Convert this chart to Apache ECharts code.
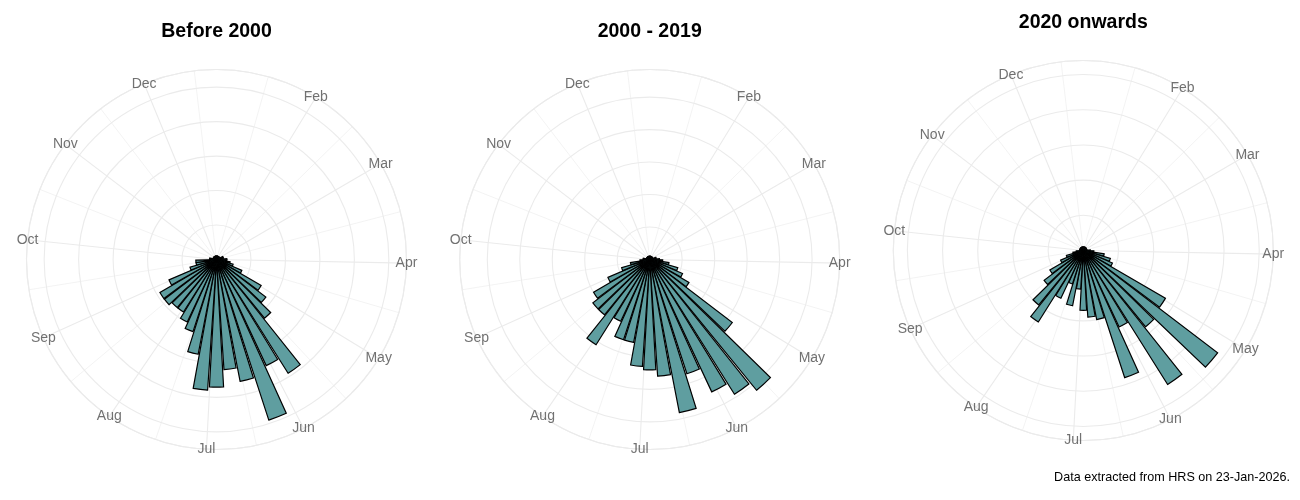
<!DOCTYPE html>
<html>
<head>
<meta charset="utf-8">
<script src="https://cdn.jsdelivr.net/npm/echarts@6.0.0/dist/echarts.min.js"></script>
<style>
  html, body { margin: 0; padding: 0; background: #fff; }
  #main { width: 1300px; height: 500px; }
</style>
</head>
<body>
<div id="main"></div>
<script>
// week number of every bar (1..51)
var weeks = Array.from({ length: 51 }, function (_, i) { return i + 1; });

// counts per week
var before2000 = [1, 1, 1, 1, 1, 1, 1, 1, 1, 2, 2, 2, 3, 3, 4, 5, 8, 15, 18, 22,
  39, 34, 49, 36, 32, 37, 38, 28, 22, 20, 18, 18, 19, 19, 15, 8, 6, 6, 2, 2,
  1, 1, 1, 1, 1, 1, 1, 1, 1, 1, 1];
var from2000 = [1, 1, 1, 1, 1, 1, 1, 1, 1, 1, 2, 2, 3, 4, 6, 9, 11, 14, 32, 52,
  49, 45, 37, 48, 36, 34, 33, 26, 26, 21, 31, 22, 22, 20, 14, 9, 6, 3, 2, 2,
  1, 1, 1, 1, 1, 1, 1, 1, 1, 1, 1];
var from2020 = [1, 1, 1, 1, 1, 1, 1, 1, 1, 1, 1, 1, 2, 3, 6, 8, 9, 27, 48, 28,
  45, 24, 38, 20, 19, 17, 11, 16, 10, 15, 24, 20, 14, 11, 7, 5, 3, 2, 1, 1,
  1, 1, 1, 1, 1, 1, 1, 1, 1, 1, 1];

var panelTitles = ["Before 2000", "2000 - 2019", "2020 onwards"];
var caption = "Data extracted from HRS on 23-Jan-2026.";

// month tick labels (Jan falls outside the axis range)
var monthNames = ["Feb", "Mar", "Apr", "May", "Jun", "Jul", "Aug", "Sep", "Oct", "Nov", "Dec"];
var monthStartDays = [32, 60, 91, 121, 152, 182, 213, 244, 274, 305, 335];

// day of year -> position on the week axis
function dayToWeek(d) {
  return (d + 3) / 7;
}
var monthBreaks = monthStartDays.map(dayToWeek);

// minor lines half way between month starts (both Januaries included)
var allStarts = [1].concat(monthStartDays, [366]);
var minorBreaks = [];
for (var i = 0; i < allStarts.length - 1; i++) {
  minorBreaks.push(dayToWeek((allStarts[i] + allStarts[i + 1]) / 2));
}

var thetaMin = 0.55;
var thetaMax = 51.45;
var barDeg = 0.9 * 360 / (thetaMax - thetaMin);

var FONT = "Liberation Sans, Arial, sans-serif";
var GRID = "#EBEBEB";

var panels = [
  { data: before2000, center: [216.5, 259.5], titleTop: 21.5 },
  { data: from2000, center: [649.7, 259.5], titleTop: 21.5 },
  { data: from2020, center: [1083.3, 250.5], titleTop: 12.3 }
];

var polar = [];
var angleAxis = [];
var radiusAxis = [];
var series = [];
var title = [];

panels.forEach(function (p, k) {
  var maxVal = Math.max.apply(null, p.data);
  var outerVal = maxVal * 0.45 / 0.4;
  var mainIdx = polar.length;

  // main polar: bars, month lines, circles
  polar.push({ center: p.center, radius: 190 });
  angleAxis.push({
    polarIndex: mainIdx,
    type: "value",
    min: thetaMin,
    max: thetaMax,
    startAngle: 90,
    clockwise: true,
    axisLine: { show: true, lineStyle: { color: GRID, width: 1.1 } },
    axisTick: { show: false, customValues: monthBreaks },
    axisLabel: { show: false, customValues: monthBreaks },
    splitLine: { show: true, lineStyle: { color: GRID, width: 1.1 } }
  });
  radiusAxis.push({
    polarIndex: mainIdx,
    type: "value",
    min: 0,
    max: outerVal,
    interval: 10,
    axisLine: { show: false },
    axisTick: { show: false },
    axisLabel: { show: false },
    splitLine: { show: true, lineStyle: { color: GRID, width: 1.1 } }
  });

  // overlay polar: minor month lines
  var minorIdx = polar.length;
  polar.push({ center: p.center, radius: 190 });
  angleAxis.push({
    polarIndex: minorIdx,
    type: "value",
    min: thetaMin,
    max: thetaMax,
    startAngle: 90,
    clockwise: true,
    axisLine: { show: false },
    axisTick: { show: false, customValues: minorBreaks },
    axisLabel: { show: false, customValues: minorBreaks },
    splitLine: { show: true, lineStyle: { color: GRID, width: 0.6 } }
  });
  radiusAxis.push({
    polarIndex: minorIdx,
    type: "value",
    min: 0,
    max: 1,
    show: false
  });

  series.push({
    type: "bar",
    coordinateSystem: "polar",
    polarIndex: mainIdx,
    barWidth: barDeg,
    data: weeks.map(function (w, j) { return [p.data[j], w]; }),
    itemStyle: { color: "#5F9EA0", borderColor: "#000", borderWidth: 1.2 },
    z: 3
  });

  // month labels centred on the outer circle, as ggplot does
  series.push({
    type: "scatter",
    coordinateSystem: "polar",
    polarIndex: mainIdx,
    symbolSize: 1,
    silent: true,
    itemStyle: { color: "rgba(0,0,0,0)" },
    label: {
      show: true,
      position: "inside",
      offset: [0, 0],
      color: "#4D4D4D",
      fontSize: 14,
      fontFamily: FONT,
      formatter: function (q) { return q.name; }
    },
    data: monthNames.map(function (m, j) {
      return { name: m, value: [outerVal, monthBreaks[j]] };
    }),
    z: 4
  });

  title.push({
    text: panelTitles[k],
    left: p.center[0],
    top: p.titleTop,
    textAlign: "center",
    padding: 0,
    textStyle: { fontSize: 19.5, fontWeight: "bold", color: "#000", fontFamily: FONT }
  });
});

title.push({
  text: caption,
  right: 10,
  top: 471,
  padding: 0,
  textStyle: { fontSize: 12.6, fontWeight: "normal", color: "#000", fontFamily: FONT }
});

var chart = echarts.init(document.getElementById("main"));
chart.setOption({
  animation: false,
  backgroundColor: "#fff",
  title: title,
  polar: polar,
  angleAxis: angleAxis,
  radiusAxis: radiusAxis,
  series: series
});
</script>
</body>
</html>
